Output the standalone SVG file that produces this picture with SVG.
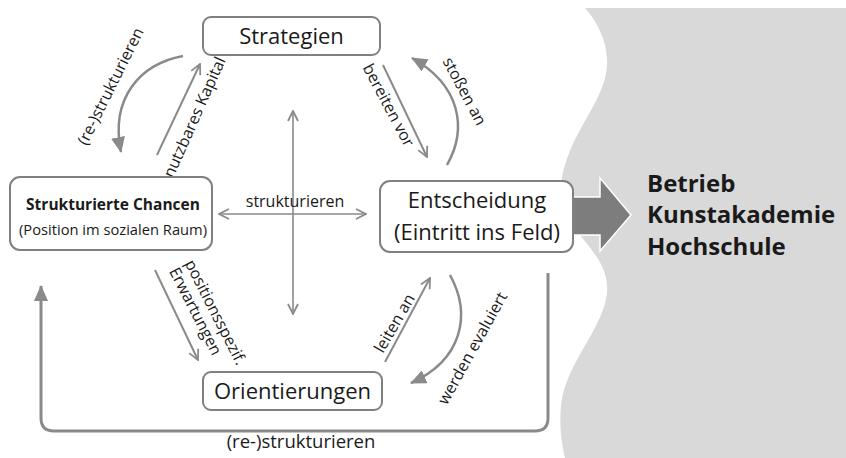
<svg xmlns="http://www.w3.org/2000/svg" width="846" height="458" viewBox="0 0 846 458">
<style>
.box{fill:#fff;stroke:#808080;stroke-width:2}
.t{font-family:"Open Sans","Noto Sans",sans-serif;fill:#1a1a1a}
.big{font-size:22px}
.lbl{font-size:16px}
.rot{font-size:16px;dominant-baseline:central;text-anchor:middle}
.ln{fill:none;stroke:#8a8a8a;stroke-width:2}
.thin{fill:none;stroke:#8a8a8a;stroke-width:1.6}
.crv{fill:none;stroke:#8a8a8a;stroke-width:2.5}
</style>
<defs>
<marker id="open" viewBox="0 0 12 12" refX="11" refY="6" markerWidth="12" markerHeight="12" markerUnits="userSpaceOnUse" orient="auto-start-reverse">
<path d="M1,1 L11,6 L1,11" fill="none" stroke="#8a8a8a" stroke-width="1.8"/>
</marker>
<marker id="fill" viewBox="0 0 16 14" refX="15" refY="7" markerWidth="16" markerHeight="14" markerUnits="userSpaceOnUse" orient="auto">
<path d="M0,0 L16,7 L0,14 Z" fill="#8a8a8a"/>
</marker>
</defs>
<g id="background">
<path d="M585,8 C600,25 612,50 605,78 C597,110 566,140 561,185 C556,228 604,245 607,285 C610,322 566,360 561,405 C559,428 562,445 565,458 L846,458 L846,8 Z" fill="#d9d9d9"/>
</g>
<g id="connectors">
<path class="ln" d="M157,155 L200,64" marker-end="url(#open)"/>
<path class="ln" d="M383,65 L427,157" marker-end="url(#open)"/>
<path class="ln" d="M155,270 L198,360" marker-end="url(#open)"/>
<path class="ln" d="M385,362 L430,278" marker-end="url(#open)"/>
<path class="thin" d="M293,111 L293,314" marker-start="url(#open)" marker-end="url(#open)"/>
<path class="thin" d="M219,214 L366,214" marker-start="url(#open)" marker-end="url(#open)"/>
<path class="crv" d="M183,56 C140,64 110,98 121,152" marker-end="url(#fill)"/>
<path class="crv" d="M447,165 C468,128 460,85 412,58" marker-end="url(#fill)"/>
<path class="crv" d="M450,275 C472,315 462,360 411,383" marker-end="url(#fill)"/>
<path fill="none" stroke="#8a8a8a" stroke-width="3" d="M548,273 L548,418 Q548,431 535,431 L54,431 Q41,431 41,418 L41,286" marker-end="url(#fill)"/>
<path d="M573,197 L600,197 L600,178 L631,215 L600,251 L600,235 L573,235 Z" fill="#7d7d7d" stroke="#fff" stroke-width="1.5"/>
</g>
<g id="labels">
<text class="t lbl" x="295" y="207" text-anchor="middle">strukturieren</text>
<text class="t rot" transform="translate(194,117) rotate(-66)">nutzbares Kapital</text>
<text class="t rot" transform="translate(110,86) rotate(-63.5)">(re-)strukturieren</text>
<text class="t rot" transform="translate(389,105) rotate(62)">bereiten vor</text>
<text class="t rot" transform="translate(465,91) rotate(62)">stoßen an</text>
<text class="t rot" transform="translate(216,312) rotate(63)">positionsspezif.</text>
<text class="t rot" transform="translate(196,311) rotate(63)">Erwartungen</text>
<text class="t rot" transform="translate(394,323) rotate(-60)">leiten an</text>
<text class="t rot" transform="translate(472,348) rotate(-61)">werden evaluiert</text>
<text class="t" x="301" y="448" font-size="18.5" text-anchor="middle">(re-)strukturieren</text>
</g>
<g id="strategien">
<rect class="box" x="203" y="17" width="177" height="38" rx="8"/>
<text class="t big" x="291.5" y="44" text-anchor="middle">Strategien</text>
</g>
<g id="chancen">
<rect class="box" x="10" y="177" width="202" height="73" rx="10"/>
<text class="t" x="113" y="210" font-size="15.5" font-weight="bold" text-anchor="middle">Strukturierte Chancen</text>
<text class="t" x="113" y="235" font-size="14.7" text-anchor="middle">(Position im sozialen Raum)</text>
</g>
<g id="entscheidung">
<rect class="box" x="380" y="181" width="193" height="71" rx="10"/>
<text class="t big" x="477" y="208" text-anchor="middle">Entscheidung</text>
<text class="t big" x="477" y="240" text-anchor="middle">(Eintritt ins Feld)</text>
</g>
<g id="orientierungen">
<rect class="box" x="203" y="372" width="179" height="38" rx="8"/>
<text class="t big" x="292.5" y="399" text-anchor="middle">Orientierungen</text>
</g>
<g id="felder">
<text class="t" x="647" y="192" font-size="24" font-weight="bold" fill="#111">Betrieb</text>
<text class="t" x="647" y="223" font-size="24" font-weight="bold" fill="#111">Kunstakademie</text>
<text class="t" x="647" y="255" font-size="24" font-weight="bold" fill="#111">Hochschule</text>
</g>
</svg>
